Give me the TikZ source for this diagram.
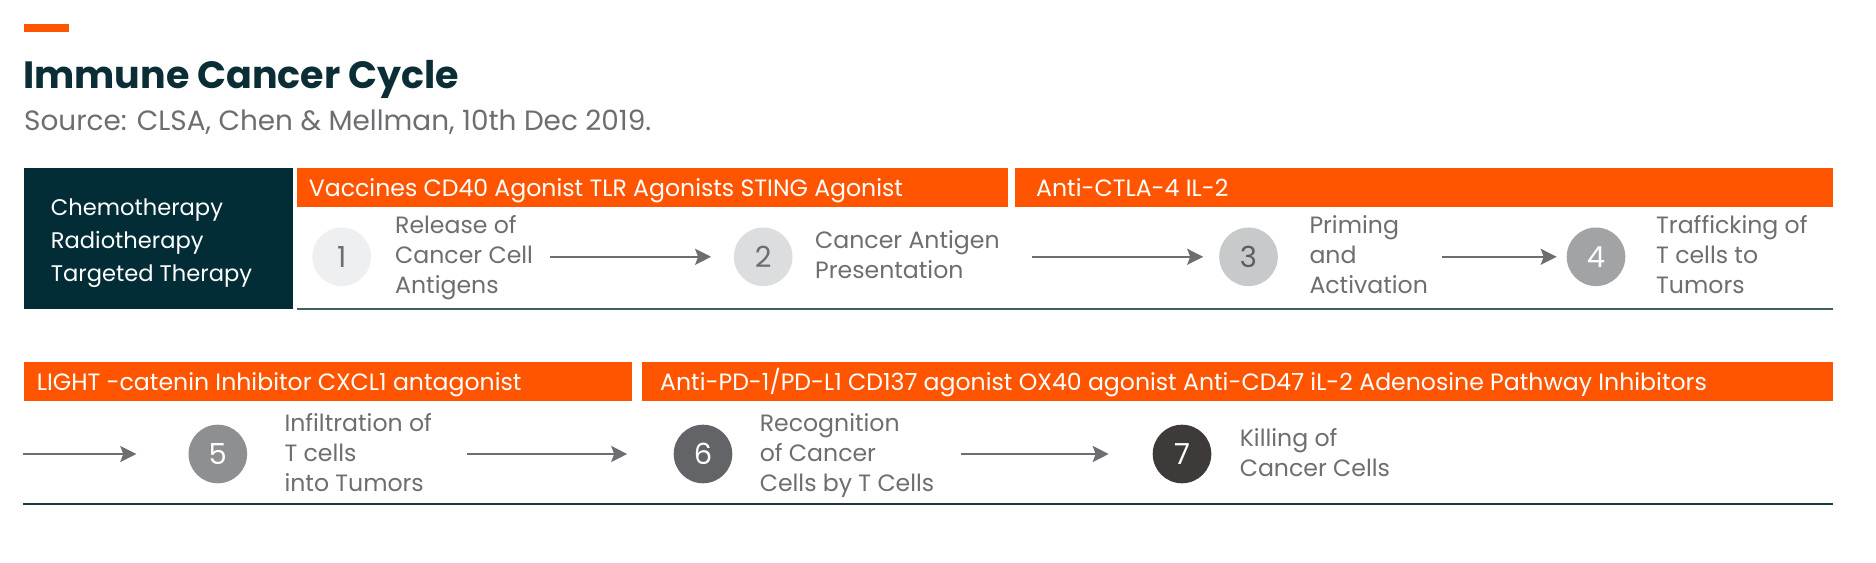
\documentclass[tikz,border=0pt]{standalone}
\usepackage{fontspec}
\setmainfont{Poppins}
\usetikzlibrary{arrows.meta}
\definecolor{corange}{HTML}{FF5500}
\definecolor{cdark}{HTML}{032D36}
\definecolor{ctitle}{HTML}{0B2E36}
\definecolor{cgray}{HTML}{6D6E71}
\definecolor{cline}{HTML}{3F5F63}
\definecolor{clinetwo}{HTML}{1A3A40}
\definecolor{cone}{HTML}{EEEFF1}
\definecolor{ctwo}{HTML}{DCDDDF}
\definecolor{cthree}{HTML}{C8C9CB}
\definecolor{cfour}{HTML}{A2A3A5}
\definecolor{cfive}{HTML}{8E8F91}
\definecolor{csix}{HTML}{636467}
\definecolor{cseven}{HTML}{3D3A39}
\newcommand\mystrut{\rule[-8pt]{0pt}{30pt}}
\tikzset{
  bar/.style={fill=corange, draw=none, anchor=north west, minimum height=39.4pt, inner sep=0pt},
  bartxt/.style={text=white, anchor=base west, inner sep=0pt, font=\fontsize{23.6}{30}\selectfont},
  steptxt/.style={text=cgray, anchor=west, inner sep=0pt, align=left, font=\fontsize{23.6}{30}\selectfont},
  num/.style={circle, minimum size=58.6pt, inner sep=0pt, font=\fontsize{29}{30}\selectfont},
  flow/.style={draw=cgray, line width=2pt, -{Stealth[length=16pt,width=16pt,inset=3pt]}},
}
\begin{document}
\begin{tikzpicture}[x=1pt,y=-1pt]
\useasboundingbox (0,0) rectangle (1876,562);
\fill[white] (0,0) rectangle (1876,562);
% header
\node[fill=corange, anchor=north west, minimum width=45pt, minimum height=8pt, inner sep=0pt] (accent) at (23.3,24) {};
\node[anchor=base west, inner sep=0pt, text=ctitle, font=\fontsize{38}{44}\bfseries\selectfont] (title) at (23,88.3) {Immune Cancer Cycle};
\node[anchor=base west, inner sep=0pt, text=cgray, font=\fontsize{27.9}{32}\selectfont] (source) at (24,130) {Source: CLSA, Chen \& Mellman, 10th Dec 2019.};
% row 1
\node[fill=cdark, anchor=north west, minimum width=269pt, minimum height=141.4pt, inner sep=0pt] (therapy) at (23.3,167.3) {};
\node[anchor=north west, inner sep=0pt, text=white, align=left, font=\fontsize{22.6}{33}\selectfont] (therapytxt) at (50.7,198.5) {Chemotherapy\\Radiotherapy\\Targeted Therapy};
\node[bar, minimum width=710.7pt] (bar1) at (296.7,167.3) {};
\node[bartxt] (bar1txt) at (308.7,196) {Vaccines CD40 Agonist TLR Agonists STING Agonist};
\node[bar, minimum width=818.4pt] (bar2) at (1014.6,167.3) {};
\node[bartxt] (bar2txt) at (1036,196) {Anti-CTLA-4 IL-2};
\coordinate (l1a) at (296.7,308.5);
\coordinate (l1b) at (1833,308.5);
\draw[cline, line width=2pt] (l1a) -- (l1b);
\node[num, fill=cone, text=cgray] (n1) at (341.7,256.8) {1};
\node[steptxt] (t1) at (395,256.8) {Release of\mystrut\\Cancer Cell\mystrut\\Antigens\mystrut};
\node[num, fill=ctwo, text=cgray] (n2) at (763.2,256.8) {2};
\node[steptxt] (t2) at (815,256.8) {Cancer Antigen\mystrut\\Presentation\mystrut};
\node[num, fill=cthree, text=cgray!85!black] (n3) at (1248.5,256.8) {3};
\node[steptxt] (t3) at (1309.3,256.8) {Priming\mystrut\\and\mystrut\\Activation\mystrut};
\node[num, fill=cfour, text=white] (n4) at (1596,256.8) {4};
\node[steptxt] (t4) at (1656,256.8) {Trafficking of\mystrut\\T cells to\mystrut\\Tumors\mystrut};
\coordinate (a1s) at (550,256.8);
\draw[flow, shorten >=22.6pt] (a1s) -- (n2.west);
\coordinate (a2s) at (1031.5,256.8);
\draw[flow, shorten >=15.8pt] (a2s) -- (n3.west);
\coordinate (a3s) at (1441.7,256.8);
\draw[flow, shorten >=9.8pt] (a3s) -- (n4.west);
% row 2
\node[bar, minimum width=608.4pt] (bar3) at (23.3,361.3) {};
\node[bartxt] (bar3txt) at (36.7,390.5) {LIGHT -catenin Inhibitor CXCL1 antagonist};
\node[bar, minimum width=1191.5pt] (bar4) at (641.5,361.3) {};
\node[bartxt] (bar4txt) at (660,390.5) {Anti-PD-1/PD-L1 CD137 agonist OX40 agonist Anti-CD47 iL-2 Adenosine Pathway Inhibitors};
\coordinate (l2a) at (23.3,503.5);
\coordinate (l2b) at (1833,503.5);
\draw[clinetwo, line width=2pt] (l2a) -- (l2b);
\node[num, fill=cfive, text=white] (n5) at (217.8,454) {5};
\node[steptxt] (t5) at (284.3,454) {Infiltration of\mystrut\\T cells\mystrut\\into Tumors\mystrut};
\node[num, fill=csix, text=white] (n6) at (703,454) {6};
\node[steptxt] (t6) at (759.6,454) {Recognition\mystrut\\of Cancer\mystrut\\Cells by T Cells\mystrut};
\node[num, fill=cseven, text=white] (n7) at (1182,454) {7};
\node[steptxt] (t7) at (1239.6,454) {Killing of\mystrut\\Cancer Cells\mystrut};
\coordinate (a0s) at (23.3,454);
\draw[flow, shorten >=52pt] (a0s) -- (n5.west);
\coordinate (a4s) at (466.7,454);
\draw[flow, shorten >=46.3pt] (a4s) -- (n6.west);
\coordinate (a5s) at (961.4,454);
\draw[flow, shorten >=43.8pt] (a5s) -- (n7.west);
\end{tikzpicture}
\end{document}
